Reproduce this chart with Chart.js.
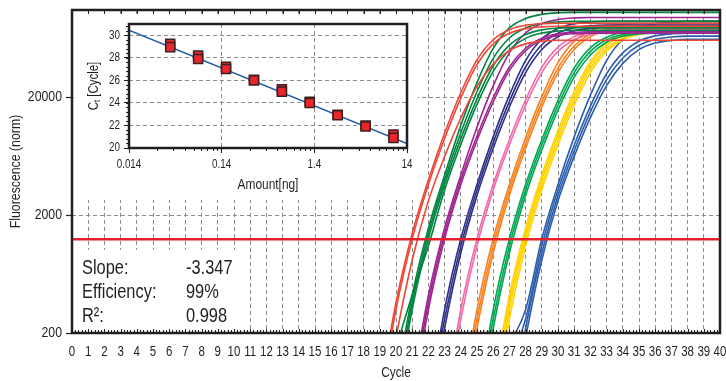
<!DOCTYPE html>
<html>
<head>
<meta charset="utf-8">
<script src="https://cdn.jsdelivr.net/npm/chart.js@4.4.1/dist/chart.umd.min.js"></script>
<style>
  body { margin: 0; background: #fff; }
  #wrap { position: relative; width: 726px; height: 381px; }
  #main { position: absolute; left: 0; top: 0; }
  #inset { position: absolute; left: 74px; top: 16px; background: #fff; }
</style>
</head>
<body>
<div id="wrap">
  <canvas id="main" width="726" height="381"></canvas>
  <canvas id="inset" width="344" height="184"></canvas>
</div>
<script>
// ---- amplification plot: fluorescence per cycle, one list per well ----
const cycleTicks = Array.from({ length: 41 }, (_, i) => i);
const fluorTicks = [200, 2000, 20000];
const threshold = 1250;

const redStart = 19;
const redRuns = [
  [60, 363, 1400, 3980, 9890, 21830, 41500, 61520, 74820, 81560, 84220, 85000, 85000, 85000, 85000, 85000, 85000, 85000, 85000, 85000, 85000, 85000],
  [50, 316, 1259, 3631, 8940, 19690, 37810, 56740, 69730, 76500, 79140, 80000, 80000, 80000, 80000, 80000, 80000, 80000, 80000, 80000, 80000, 80000],
  [29, 182, 832, 2642, 6275, 13320, 24760, 38200, 50020, 56770, 59790, 61000, 61000, 61000, 61000, 61000, 61000, 61000, 61000, 61000, 61000, 61000]
];
const darkGreenStart = 20;
const darkGreenRuns = [
  [72, 417, 1556, 4365, 11550, 26620, 51900, 77570, 93250, 101080, 104110, 105000, 105000, 105000, 105000, 105000, 105000, 105000, 105000, 105000, 105000],
  [60, 363, 1400, 3981, 10000, 22290, 42740, 63670, 77440, 84410, 87170, 88000, 88000, 88000, 88000, 88000, 88000, 88000, 88000, 88000, 88000],
  [50, 316, 1259, 3631, 8874, 19400, 37020, 55360, 68020, 74630, 77200, 78000, 78000, 78000, 78000, 78000, 78000, 78000, 78000, 78000, 78000],
  [150, 420, 1096, 3266, 7960, 17390, 33140, 50350, 63240, 70150, 73030, 74000, 74000, 74000, 74000, 74000, 74000, 74000, 74000, 74000, 74000]
];
const purpleStart = 21;
const purpleRuns = [
  [72, 417, 1556, 4365, 11140, 24990, 47580, 70220, 84420, 91510, 94250, 95000, 95000, 95000, 95000, 95000, 95000, 95000, 95000, 95000],
  [60, 363, 1400, 3981, 9390, 19820, 36110, 52110, 63370, 69080, 71330, 72000, 72000, 72000, 72000, 72000, 72000, 72000, 72000, 72000],
  [50, 316, 1259, 3631, 8590, 18240, 33830, 49690, 61060, 66990, 69300, 70000, 70000, 70000, 70000, 70000, 70000, 70000, 70000, 70000]
];
const navyStart = 22;
const navyRuns = [
  [50, 316, 1259, 3631, 9226, 20830, 40990, 62410, 76690, 84150, 87040, 88000, 88000, 88000, 88000, 88000, 88000, 88000, 88000],
  [42, 263, 1096, 3266, 8220, 18440, 36120, 55790, 70070, 77720, 80910, 82000, 82000, 82000, 82000, 82000, 82000, 82000, 82000],
  [35, 219, 955, 2938, 7381, 16530, 32390, 50910, 65290, 73260, 76710, 78000, 78000, 78000, 78000, 78000, 78000, 78000, 78000]
];
const pinkStart = 23;
const pinkRuns = [
  [50, 316, 1259, 3631, 8764, 18950, 35820, 53180, 65360, 71710, 74180, 75000, 75000, 75000, 75000, 75000, 75000, 75000],
  [42, 263, 1096, 3266, 7902, 17110, 32400, 48960, 61500, 68220, 71020, 72000, 72000, 72000, 72000, 72000, 72000, 72000]
];
const orangeStart = 24;
const orangeRuns = [
  [50, 316, 1259, 3631, 9084, 20260, 39400, 59580, 73210, 80320, 83090, 84000, 84000, 84000, 84000, 84000, 84000],
  [42, 263, 1096, 3266, 8160, 18180, 35380, 54400, 68330, 75790, 78900, 80000, 80000, 80000, 80000, 80000, 80000],
  [35, 219, 955, 2938, 7381, 16530, 32390, 50910, 65290, 73260, 76710, 78000, 78000, 78000, 78000, 78000, 78000]
];
const greenStart = 25;
const greenRuns = [
  [50, 316, 1259, 3631, 8728, 18830, 35420, 52520, 64540, 70810, 73250, 74000, 74000, 74000, 74000, 74000],
  [42, 263, 1096, 3266, 7902, 17110, 32400, 48960, 61500, 68220, 71020, 72000, 72000, 72000, 72000, 72000],
  [35, 219, 955, 2938, 7146, 15540, 29610, 45700, 58600, 65760, 68850, 70000, 70000, 70000, 70000, 70000]
];
const yellowStart = 26;
const yellowRuns = [
  [72, 417, 1556, 4365, 10430, 22190, 40220, 57660, 69320, 75140, 77390, 78000, 78000, 78000, 78000],
  [60, 363, 1400, 3981, 9540, 20430, 37770, 55000, 66890, 72910, 75290, 76000, 76000, 76000, 76000],
  [50, 316, 1259, 3631, 8690, 18670, 35020, 51800, 63650, 69840, 72240, 73000, 73000, 73000, 73000],
  [42, 263, 1096, 3266, 7902, 17110, 32400, 48960, 61500, 68220, 71020, 72000, 72000, 72000, 72000]
];
const blueStart = 27;
const blueRuns = [
  [160, 316, 1259, 3631, 9226, 20830, 40990, 62410, 76690, 84150, 87040, 88000, 88000, 88000],
  [110, 263, 1096, 3266, 7836, 16840, 31650, 47630, 59830, 66360, 69090, 70000, 70000, 70000],
  [35, 219, 955, 2938, 7025, 15050, 28210, 43040, 55190, 61920, 64840, 66000, 66000, 66000],
  [29, 182, 832, 2642, 6302, 13420, 25090, 38790, 50780, 57640, 60700, 62000, 62000, 62000]
];

// ---- standard curve (inset) ----
const amounts = [10, 5, 2.5, 1.25, 0.625, 0.3125, 0.156, 0.078, 0.039];
const ctRep1 = [20.9, 21.9, 22.9, 24.0, 25.0, 26.0, 27.0, 27.9, 28.95];
const ctRep2 = [21.2, 22.0, 22.95, 24.1, 25.2, 26.05, 27.2, 28.2, 29.25];
const fitAmount = [0.014, 14];
const fitCt = [30.45, 20.4];
const amountTicks = [0.014, 0.14, 1.4, 14];
const ctTicks = [20, 22, 24, 26, 28, 30];

const slope = -3.347;
const efficiency = 99;
const r2 = 0.998;

const FONT = '"Liberation Sans", Arial, sans-serif';
const INK = '#231f20';
const GRID = '#8c8c8c';

// condensed text: Liberation Sans squeezed to narrow proportions
function narrowText(ctx, text, x, y, size, align, baseline, rotate) {
  ctx.save();
  ctx.translate(x, y);
  if (rotate) ctx.rotate(-Math.PI / 2);
  ctx.scale(0.82, 1);
  ctx.font = size + 'px ' + FONT;
  ctx.textAlign = align || 'center';
  ctx.textBaseline = baseline || 'middle';
  ctx.fillStyle = INK;
  ctx.fillText(text, 0, 0);
  ctx.restore();
}

const groups = [
  [redStart, redRuns], [darkGreenStart, darkGreenRuns], [purpleStart, purpleRuns],
  [navyStart, navyRuns], [pinkStart, pinkRuns], [orangeStart, orangeRuns],
  [greenStart, greenRuns], [yellowStart, yellowRuns], [blueStart, blueRuns]
];
const groupColors = ['#ef4638', '#00843f', '#9d2490', '#2e2f86', '#f16aa7', '#f5821f', '#00a651', '#ffd200', '#2c5dab'];

const datasets = [{
  data: [{ x: cycleTicks[0], y: threshold }, { x: cycleTicks[cycleTicks.length - 1], y: threshold }],
  borderColor: '#e5202b', borderWidth: 2.5, pointRadius: 0, order: 0
}];
groups.forEach(([start, runs], gi) => {
  runs.forEach(run => {
    datasets.push({
      data: run.map((v, i) => ({ x: start + i, y: v })),
      borderColor: groupColors[gi], borderWidth: 1.6, pointRadius: 0,
      cubicInterpolationMode: 'monotone', order: 1
    });
  });
});

// white panel with fit statistics, frame, ruler ticks and all labels
const mainDecor = {
  id: 'mainDecor',
  beforeDatasetsDraw(chart) {
    const { ctx, chartArea: a, scales: { x } } = chart;
    ctx.save();
    ctx.fillStyle = '#fff';
    ctx.fillRect(a.left + 2, 250, x.getPixelForValue(10.6) - a.left - 2, a.bottom - 252);
    ctx.restore();
    const labels = ['Slope:', 'Efficiency:', 'R\u00b2:'];
    const values = [slope.toFixed(3), efficiency + '%', r2.toFixed(3)];
    labels.forEach((lab, i) => {
      narrowText(ctx, lab, 82, 274 + i * 24, 20, 'left', 'alphabetic');
      narrowText(ctx, values[i], 186, 274 + i * 24, 20, 'left', 'alphabetic');
    });
  },
  afterDatasetsDraw(chart) {
    const { ctx, chartArea: a, scales: { x, y } } = chart;
    ctx.save();
    ctx.strokeStyle = INK;
    ctx.lineWidth = 1;
    ctx.beginPath();
    for (let i = 0; i <= 200; i++) {
      const px = Math.round(x.getPixelForValue(i / 5)) + 0.5;
      const major = i % 5 === 0;
      ctx.moveTo(px, a.bottom);
      ctx.lineTo(px, a.bottom - (major ? 4 : 3));
      if (major) {
        ctx.moveTo(px, a.top);
        ctx.lineTo(px, a.top + 4);
      }
    }
    ctx.stroke();
    ctx.lineWidth = 2.5;
    ctx.strokeRect(a.left, a.top, a.right - a.left, a.bottom - a.top);
    ctx.restore();

    cycleTicks.forEach(v => narrowText(ctx, String(v), x.getPixelForValue(v), 352, 14));
    fluorTicks.forEach(v => narrowText(ctx, String(v), 62, y.getPixelForValue(v), 15, 'right'));
    narrowText(ctx, 'Cycle', (a.left + a.right) / 2, 373, 14.5);
    narrowText(ctx, 'Fluorescence (norm)', 16, (a.top + a.bottom) / 2, 15, 'center', 'middle', true);
  }
};

new Chart(document.getElementById('main'), {
  type: 'line',
  data: { datasets },
  options: {
    responsive: false,
    animation: false,
    devicePixelRatio: 1,
    events: [],
    layout: { padding: { top: 10, right: 6, left: 0, bottom: 0 } },
    plugins: { legend: { display: false }, tooltip: { enabled: false } },
    scales: {
      x: {
        type: 'linear', min: 0, max: 40,
        afterBuildTicks: s => { s.ticks = cycleTicks.map(v => ({ value: v })); },
        afterFit: s => { s.height = 48; s.paddingLeft = 0; s.paddingRight = 0; },
        ticks: { display: false, autoSkip: false },
        grid: { color: GRID, lineWidth: 1, drawTicks: false },
        border: { display: false, dash: [4, 3] }
      },
      y: {
        type: 'logarithmic', min: 200, max: 110000,
        afterBuildTicks: s => { s.ticks = fluorTicks.map(v => ({ value: v })); },
        afterFit: s => { s.width = 72; s.paddingTop = 0; s.paddingBottom = 0; },
        ticks: { display: false },
        grid: { color: GRID, lineWidth: 1, tickColor: INK, tickLength: 6, tickWidth: 1.2 },
        border: { display: false, dash: [4, 3] }
      }
    }
  },
  plugins: [mainDecor]
});

// inset: frame, minor ticks, labels and the Ct axis title with subscript
const insetDecor = {
  id: 'insetDecor',
  afterDraw(chart) {
    const { ctx, chartArea: a, scales: { x, y } } = chart;
    ctx.save();
    ctx.strokeStyle = INK;
    ctx.lineWidth = 1;
    ctx.beginPath();
    for (let d = 0; d < amountTicks.length - 1; d++) {
      for (let k = 2; k <= 9; k++) {
        const px = Math.round(x.getPixelForValue(amountTicks[d] * k)) + 0.5;
        ctx.moveTo(px, a.bottom);
        ctx.lineTo(px, a.bottom + 3);
      }
    }
    for (let i = 0; i <= 27; i++) {
      const py = Math.round(y.getPixelForValue(20 + i * 0.4)) + 0.5;
      ctx.moveTo(a.left, py);
      ctx.lineTo(a.left - 3, py);
    }
    ctx.stroke();
    ctx.lineWidth = 2.5;
    ctx.strokeRect(a.left, a.top, a.right - a.left, a.bottom - a.top);
    ctx.restore();

    amountTicks.forEach(v => narrowText(ctx, String(v), x.getPixelForValue(v), 149, 12));
    ctTicks.forEach(v => narrowText(ctx, String(v), 46, y.getPixelForValue(v), 12, 'right'));
    narrowText(ctx, 'Amount[ng]', (a.left + a.right) / 2, 169, 14.5);

    // "Ct [Cycle]" with subscript t, rotated
    ctx.save();
    ctx.translate(20, (a.top + a.bottom) / 2);
    ctx.rotate(-Math.PI / 2);
    ctx.scale(0.82, 1);
    ctx.fillStyle = INK;
    ctx.textBaseline = 'middle';
    const big = '14px ' + FONT, small = '9px ' + FONT;
    ctx.font = big;
    const wC = ctx.measureText('C').width, wRest = ctx.measureText(' [Cycle]').width;
    ctx.font = small;
    const wT = ctx.measureText('t').width;
    const x0 = -(wC + wT + wRest) / 2;
    ctx.font = big;
    ctx.fillText('C', x0, 0);
    ctx.font = small;
    ctx.fillText('t', x0 + wC, 4);
    ctx.font = big;
    ctx.fillText(' [Cycle]', x0 + wC + wT, 0);
    ctx.restore();
  }
};

const squareStyle = {
  pointStyle: 'rect', pointRadius: 6.4, backgroundColor: '#e8262b',
  borderColor: '#3a2020', borderWidth: 1.5, order: 0
};

new Chart(document.getElementById('inset'), {
  type: 'scatter',
  data: {
    datasets: [
      {
        type: 'line',
        data: fitAmount.map((v, i) => ({ x: v, y: fitCt[i] })),
        borderColor: '#1f5ba8', borderWidth: 1.5, pointRadius: 0, order: 1
      },
      Object.assign({ data: amounts.map((v, i) => ({ x: v, y: ctRep1[i] })) }, squareStyle),
      Object.assign({ data: amounts.map((v, i) => ({ x: v, y: ctRep2[i] })) }, squareStyle)
    ]
  },
  options: {
    responsive: false,
    animation: false,
    devicePixelRatio: 1,
    events: [],
    layout: { padding: { top: 8, right: 11, left: 0, bottom: 0 } },
    plugins: { legend: { display: false }, tooltip: { enabled: false } },
    scales: {
      x: {
        type: 'logarithmic', min: 0.014, max: 14,
        afterBuildTicks: s => { s.ticks = amountTicks.map(v => ({ value: v })); },
        afterFit: s => { s.height = 52; s.paddingLeft = 0; s.paddingRight = 0; },
        ticks: { display: false },
        grid: { color: GRID, lineWidth: 1, tickColor: INK, tickLength: 5 },
        border: { display: false, dash: [4, 3] }
      },
      y: {
        min: 20, max: 31,
        afterBuildTicks: s => { s.ticks = ctTicks.map(v => ({ value: v })); },
        afterFit: s => { s.width = 55; s.paddingTop = 0; s.paddingBottom = 0; },
        ticks: { display: false },
        grid: { color: GRID, lineWidth: 1, tickColor: INK, tickLength: 5 },
        border: { display: false, dash: [4, 3] }
      }
    }
  },
  plugins: [insetDecor]
});
</script>
</body>
</html>
